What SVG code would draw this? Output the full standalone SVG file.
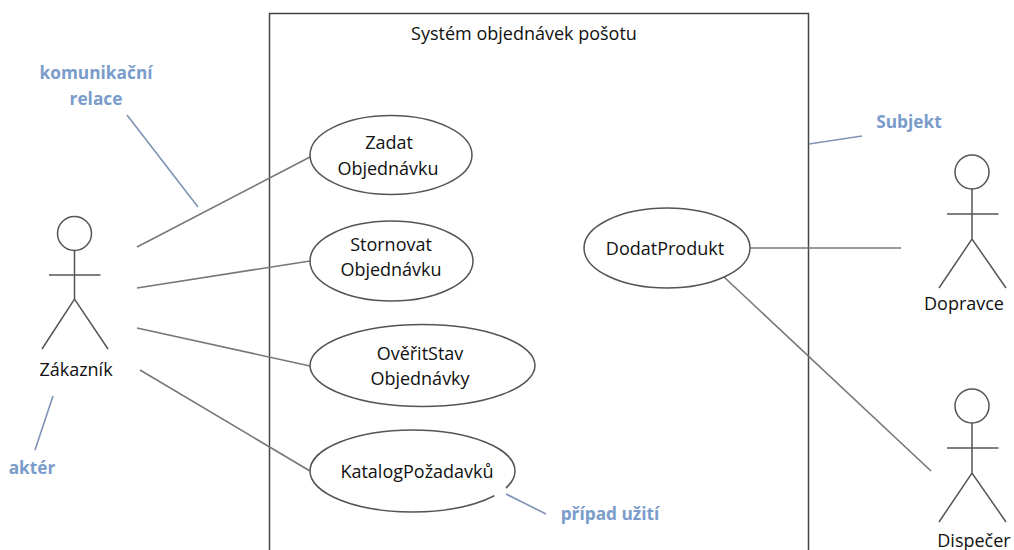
<svg xmlns="http://www.w3.org/2000/svg" width="1014" height="550" viewBox="0 0 1014 550">
<style>
text{font-family:"Open Sans","Noto Sans","Liberation Sans",sans-serif;font-size:18px;fill:#111;text-anchor:middle}
.note{font-weight:700;font-size:17.300px;fill:#7a9ccb}
.ln{stroke:#777;stroke-width:1.600;fill:none}
.nl{stroke:#7f93b5;stroke-width:1.600;fill:none}
.uc{stroke:#555;stroke-width:1.500;fill:#fff}
.act{stroke:#555;stroke-width:1.500;fill:none}
</style>
<rect width="1014" height="550" fill="#fff"/>
<g id="system"><path d="M269.500 550V13.500H808.500V550" fill="none" stroke="#444" stroke-width="1.500"/><text x="524" y="40">Systém objednávek pošotu</text></g>
<g id="connectors">
<path class="ln" d="M137 247L310 157"/>
<path class="ln" d="M137 288L310 261"/>
<path class="ln" d="M137 328L310 366"/>
<path class="ln" d="M140 370L310 471"/>
<path class="ln" d="M750 248H901"/>
<path class="ln" d="M724 277L931 471"/>
</g>
<g id="uc-zadat"><ellipse class="uc" cx="391" cy="155" rx="81" ry="39.500"/><text x="389" y="149">Zadat</text><text x="388" y="175">Objednávku</text></g>
<g id="uc-stornovat"><ellipse class="uc" cx="391.500" cy="261" rx="81.500" ry="40"/><text x="391" y="251">Stornovat</text><text x="391" y="276">Objednávku</text></g>
<g id="uc-overit"><ellipse class="uc" cx="422.500" cy="365.500" rx="112.500" ry="41"/><text x="420" y="360">OvěřitStav</text><text x="420" y="385">Objednávky</text></g>
<g id="uc-katalog"><ellipse class="uc" cx="412.500" cy="471" rx="102.500" ry="41"/><path d="M494 495L506 488" stroke="#fff" stroke-width="4"/><text x="417" y="478">KatalogPožadavků</text></g>
<g id="uc-dodat"><ellipse class="uc" cx="667" cy="248" rx="83" ry="40"/><text x="665" y="255">DodatProdukt</text></g>
<g id="actor-zakaznik"><circle class="act" cx="74.500" cy="233.500" r="17"/><path class="act" d="M74.500 250.500V299M49 275H100.500M42 349L74.500 299L108 349"/><text x="76" y="376">Zákazník</text></g>
<g id="actor-dopravce"><circle class="act" cx="972" cy="172" r="17"/><path class="act" d="M972 189V239M947 214H998.500M939 288L972 239L1006 288"/><text x="964" y="310">Dopravce</text></g>
<g id="actor-dispecer"><circle class="act" cx="972" cy="406" r="17"/><path class="act" d="M972 423V473M947 448H998.500M939 522L972 473L1006 522"/><text x="974" y="547">Dispečer</text></g>
<g id="annotations">
<path class="nl" d="M127 115L198 207"/>
<path class="nl" d="M53 396L35 450"/>
<path class="nl" d="M506 494L546 514"/>
<path class="nl" d="M809 144L862 136"/>
<text class="note" x="96" y="79">komunikační</text>
<text class="note" x="96" y="105">relace</text>
<text class="note" x="32" y="474">aktér</text>
<text class="note" x="610" y="520">případ užití</text>
<text class="note" x="909" y="128">Subjekt</text>
</g>
</svg>
